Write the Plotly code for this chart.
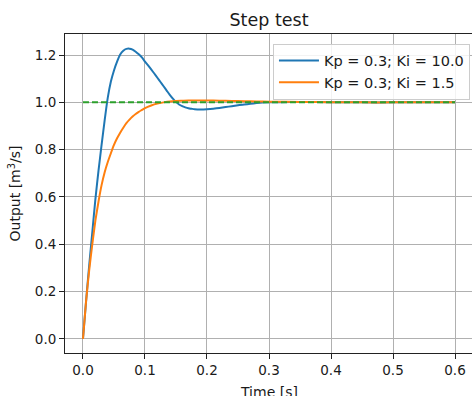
import plotly.graph_objects as go

t_blue = [0, 0.005, 0.01, 0.015, 0.02, 0.025, 0.03, 0.035, 0.04, 0.045, 0.05, 0.055,
          0.06, 0.065, 0.07, 0.075, 0.08, 0.085, 0.09, 0.095, 0.10, 0.105, 0.11, 0.115,
          0.12, 0.125, 0.13, 0.135, 0.14, 0.145, 0.15, 0.155, 0.16, 0.165, 0.17, 0.175,
          0.18, 0.19, 0.20, 0.21, 0.22, 0.23, 0.24, 0.25, 0.26, 0.27, 0.28, 0.29, 0.30,
          0.32, 0.35, 0.40, 0.45, 0.50, 0.55, 0.60]
v_blue = [0, 0.16, 0.31, 0.45, 0.59, 0.71, 0.82, 0.925, 1.02, 1.088, 1.135, 1.172,
          1.202, 1.218, 1.226, 1.227, 1.223, 1.214, 1.203, 1.19, 1.172, 1.156, 1.139, 1.122,
          1.104, 1.086, 1.068, 1.05, 1.032, 1.016, 1.002, 0.991, 0.984, 0.979, 0.975, 0.973,
          0.971, 0.970, 0.971, 0.973, 0.976, 0.980, 0.984, 0.988, 0.991, 0.994, 0.997, 0.999, 1.0,
          1.001, 1.002, 1.001, 1.0, 1.0, 1.0, 1.0]

t_orange = [0, 0.005, 0.01, 0.015, 0.02, 0.025, 0.03, 0.035, 0.04, 0.045, 0.05, 0.055,
            0.06, 0.065, 0.07, 0.075, 0.08, 0.085, 0.09, 0.095, 0.10, 0.11, 0.12, 0.13,
            0.14, 0.15, 0.16, 0.17, 0.18, 0.19, 0.20, 0.22, 0.24, 0.26, 0.28, 0.30,
            0.35, 0.40, 0.45, 0.50, 0.55, 0.60]
v_orange = [0, 0.16, 0.29, 0.40, 0.50, 0.58, 0.65, 0.705, 0.748, 0.785, 0.82, 0.848,
            0.872, 0.893, 0.912, 0.927, 0.94, 0.951, 0.96, 0.968, 0.976, 0.987, 0.995, 1.0,
            1.004, 1.006, 1.007, 1.008, 1.008, 1.008, 1.008, 1.007, 1.006, 1.005, 1.004, 1.003,
            1.002, 1.001, 1.0, 1.0, 1.0, 1.0]

t_ref = [0, 0.6]
v_ref = [1.0, 1.0]

labels = ["Kp = 0.3; Ki = 10.0", "Kp = 0.3; Ki = 1.5"]
x_ticks = [0.0, 0.1, 0.2, 0.3, 0.4, 0.5, 0.6]
y_ticks = [0.0, 0.2, 0.4, 0.6, 0.8, 1.0, 1.2]

FONT = "DejaVu Sans"
TXT = "#1a1a1a"
fig = go.Figure()
fig.add_trace(go.Scatter(x=t_blue, y=v_blue, mode="lines", name=labels[0],
                         line=dict(color="#1f77b4", width=2, shape="spline", smoothing=0.5)))
fig.add_trace(go.Scatter(x=t_orange, y=v_orange, mode="lines", name=labels[1],
                         line=dict(color="#ff7f0e", width=2, shape="spline", smoothing=0.5)))
fig.add_trace(go.Scatter(x=t_ref, y=v_ref, mode="lines", showlegend=False,
                         line=dict(color="#2ca02c", width=2, dash="6px,3px")))

axis_common = dict(showgrid=True, gridcolor="#b0b0b0", gridwidth=1,
                   showline=True, linecolor="#222222", linewidth=1,
                   ticks="outside", ticklen=5, tickcolor="#222222", tickwidth=1,
                   tickfont=dict(family=FONT, size=13.5, color=TXT),
                   zeroline=False, tickformat=".1f", automargin=False)

fig.update_layout(
    width=472, height=396,
    margin=dict(l=65, r=0, t=34, b=43),
    paper_bgcolor="white", plot_bgcolor="white",
    font=dict(family=FONT, size=13.5, color=TXT),
    title=dict(text="Step test", x=269 / 472, xanchor="center",
               y=1 - 20 / 396, yanchor="middle",
               font=dict(family=FONT, size=17.5, color=TXT)),
    xaxis=dict(range=[-0.029, 0.6274], tickvals=x_ticks, mirror=True,
               **axis_common),
    yaxis=dict(range=[-0.0595, 1.289], tickvals=y_ticks,
               title=dict(text="Output [m<sup>3</sup>/s]", standoff=10,
                          font=dict(family=FONT, size=14, color=TXT)),
               **axis_common),
    legend=dict(x=0.995, xanchor="right", y=0.97, yanchor="top",
                bgcolor="rgba(255,255,255,0.85)", bordercolor="#cccccc", borderwidth=1,
                font=dict(family=FONT, size=14.5, color=TXT),
                itemwidth=40, tracegroupgap=0),
    showlegend=True,
    annotations=[dict(text="Time [s]", xref="paper", yref="paper",
                      x=0.5, y=-0.1223, xanchor="center", yanchor="middle",
                      showarrow=False, font=dict(family=FONT, size=14, color=TXT))],
)

fig.write_html("out.html")
